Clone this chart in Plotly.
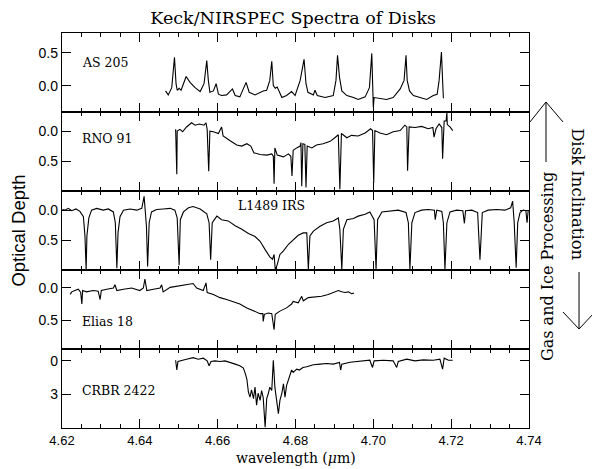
import plotly.graph_objects as go

# ---------------- data (wavelength in micron, optical depth) ----------------
as205_wl = [4.6466, 4.6473, 4.6482, 4.6489, 4.6493, 4.6496, 4.6501, 4.6506, 4.6519, 4.6529,
            4.6542, 4.6555, 4.6565, 4.6572, 4.6576, 4.6580, 4.6589, 4.6596, 4.6602, 4.6610,
            4.6623, 4.6638, 4.6645, 4.6657, 4.6673, 4.6681, 4.6696, 4.6709, 4.6717, 4.6726,
            4.6734, 4.6739, 4.6743, 4.6748, 4.6753, 4.6765, 4.6777, 4.6790, 4.6799, 4.6812,
            4.6819, 4.6822, 4.6827, 4.6832, 4.6846, 4.6850, 4.6856, 4.6876, 4.6897, 4.6904,
            4.6908, 4.6913, 4.6919, 4.6932, 4.6949, 4.6961, 4.6979, 4.6990, 4.6996, 4.6998,
            4.7000, 4.7002, 4.7017, 4.7034, 4.7051, 4.7069, 4.7079, 4.7084, 4.7087, 4.7093,
            4.7103, 4.7120, 4.7137, 4.7154, 4.7164, 4.7169, 4.7175, 4.7178, 4.7180]
as205_tau = [-0.08, -0.14, -0.03, 0.43, 0.03, -0.07, -0.04, -0.07, 0.14, 0.05,
             -0.03, -0.09, 0.03, 0.38, 0.08, -0.10, -0.08, 0.03, -0.13, -0.15,
             -0.14, -0.05, -0.15, -0.17, 0.05, -0.10, -0.14, -0.10, -0.08, -0.07,
             0.08, 0.37, 0.00, -0.04, -0.02, -0.18, -0.15, -0.09, -0.15, 0.08,
             0.28, 0.40, 0.03, -0.10, -0.14, -0.07, -0.15, -0.18, -0.15, 0.08,
             0.46, 0.13, -0.08, -0.15, -0.18, -0.21, -0.17, -0.03, 0.49, 0.03,
             -0.33, -0.18, -0.19, -0.21, -0.18, -0.05, 0.08, 0.46, 0.08, -0.08,
             -0.15, -0.18, -0.21, -0.15, -0.13, 0.08, 0.51, 0.08, -0.19]

rno91_wl = [4.6492, 4.6494, 4.6495, 4.6496, 4.6503, 4.6510, 4.6520, 4.6533, 4.6542, 4.6553,
            4.6565, 4.6570, 4.6573, 4.6577, 4.6580, 4.6589, 4.6602, 4.6610, 4.6614, 4.6632,
            4.6649, 4.6662, 4.6675, 4.6685, 4.6693, 4.6709, 4.6726, 4.6739, 4.6743, 4.6745,
            4.6747, 4.6753, 4.6769, 4.6782, 4.6788, 4.6791, 4.6794, 4.6803, 4.6812, 4.6814,
            4.6816, 4.6819, 4.6824, 4.6827, 4.6830, 4.6842, 4.6854, 4.6871, 4.6889, 4.6901,
            4.6910, 4.6914, 4.6918, 4.6932, 4.6944, 4.6961, 4.6979, 4.6993, 4.6998, 4.7001,
            4.7004, 4.7017, 4.7034, 4.7051, 4.7069, 4.7081, 4.7086, 4.7088, 4.7092, 4.7107,
            4.7124, 4.7141, 4.7153, 4.7156, 4.7161, 4.7169, 4.7176, 4.7178, 4.7182, 4.7187,
            4.7189, 4.7190, 4.7197, 4.7204]
rno91_tau = [-0.03, 0.33, 0.72, 0.00, -0.03, 0.01, -0.07, -0.14, -0.10, -0.12,
             -0.10, -0.14, -0.03, 0.67, 0.00, 0.01, 0.04, -0.07, 0.08, 0.16,
             0.23, 0.25, 0.21, 0.25, 0.36, 0.39, 0.40, 0.38, 0.42, 0.88,
             0.28, 0.40, 0.43, 0.38, 0.42, 0.75, 0.32, 0.28, 0.25, 0.19,
             0.92, 0.21, 0.22, 0.94, 0.25, 0.28, 0.23, 0.21, 0.17, 0.11,
             0.06, 0.97, 0.04, 0.11, 0.07, 0.08, 0.03, -0.04, -0.01, 0.86,
             -0.01, 0.03, 0.06, 0.01, -0.01, -0.10, -0.07, 0.66, -0.07, -0.06,
             -0.08, -0.04, -0.06, 0.10, -0.04, -0.12, -0.06, 0.46, -0.17, -0.17,
             -0.31, -0.11, -0.07, -0.01]

l1489_wl = [4.6201, 4.6208, 4.6216, 4.6225, 4.6236, 4.6246, 4.6255, 4.6259, 4.6262, 4.6264,
            4.6269, 4.6276, 4.6289, 4.6306, 4.6319, 4.6332, 4.6337, 4.6341, 4.6344, 4.6349,
            4.6358, 4.6375, 4.6392, 4.6405, 4.6411, 4.6415, 4.6417, 4.6420, 4.6424, 4.6430,
            4.6443, 4.6460, 4.6478, 4.6490, 4.6496, 4.6501, 4.6504, 4.6512, 4.6525, 4.6537,
            4.6555, 4.6572, 4.6578, 4.6582, 4.6586, 4.6598, 4.6610, 4.6627, 4.6645, 4.6662,
            4.6679, 4.6696, 4.6709, 4.6722, 4.6734, 4.6741, 4.6745, 4.6748, 4.6753, 4.6760,
            4.6769, 4.6782, 4.6794, 4.6807, 4.6820, 4.6829, 4.6833, 4.6837, 4.6846, 4.6863,
            4.6880, 4.6897, 4.6910, 4.6914, 4.6919, 4.6923, 4.6932, 4.6949, 4.6961, 4.6979,
            4.6991, 4.7002, 4.7007, 4.7011, 4.7022, 4.7043, 4.7064, 4.7084, 4.7090, 4.7094,
            4.7099, 4.7107, 4.7124, 4.7141, 4.7157, 4.7159, 4.7163, 4.7176, 4.7180, 4.7184,
            4.7189, 4.7197, 4.7214, 4.7230, 4.7234, 4.7237, 4.7253, 4.7268, 4.7274, 4.7280,
            4.7295, 4.7317, 4.7338, 4.7353, 4.7358, 4.7362, 4.7367, 4.7371, 4.7377, 4.7385,
            4.7392, 4.7395, 4.7398]
l1489_tau = [-0.01, 0.00, -0.03, 0.01, -0.02, 0.02, 0.11, 0.43, 1.00, 0.43,
             0.13, 0.00, -0.03, 0.00, -0.02, 0.03, 0.21, 0.97, 0.38, 0.11,
             0.00, -0.02, 0.00, -0.03, -0.23, 0.03, 0.27, 0.94, 0.21, 0.03,
             -0.01, -0.02, -0.03, 0.00, 0.13, 0.92, 0.16, 0.03, -0.04, -0.06,
             -0.02, 0.06, 0.21, 0.83, 0.21, 0.10, 0.16, 0.18, 0.26, 0.32,
             0.39, 0.44, 0.52, 0.66, 0.78, 0.82, 0.74, 1.00, 0.91, 0.74,
             0.68, 0.57, 0.49, 0.42, 0.38, 0.38, 0.99, 0.43, 0.35, 0.27,
             0.21, 0.18, 0.13, 0.32, 0.99, 0.32, 0.16, 0.14, 0.10, 0.07,
             0.03, 0.16, 0.99, 0.16, 0.03, 0.02, 0.00, 0.04, 0.21, 0.99,
             0.21, 0.04, 0.00, -0.01, 0.00, 0.16, 0.00, 0.02, 0.21, 0.99,
             0.21, 0.03, 0.00, 0.01, 0.22, 0.01, 0.00, 0.04, 0.83, 0.04,
             0.00, -0.01, 0.00, -0.04, -0.15, 0.21, 0.96, 0.21, 0.04, 0.00,
             0.01, 0.21, 0.00]

elias18_wl = [4.6221, 4.6225, 4.6233, 4.6242, 4.6248, 4.6251, 4.6253, 4.6263, 4.6280, 4.6293,
              4.6298, 4.6301, 4.6315, 4.6332, 4.6336, 4.6341, 4.6358, 4.6379, 4.6400, 4.6409,
              4.6413, 4.6418, 4.6435, 4.6452, 4.6456, 4.6460, 4.6478, 4.6499, 4.6520, 4.6537,
              4.6546, 4.6563, 4.6570, 4.6573, 4.6589, 4.6606, 4.6623, 4.6640, 4.6657, 4.6675,
              4.6692, 4.6709, 4.6716, 4.6717, 4.6720, 4.6730, 4.6739, 4.6745, 4.6748, 4.6760,
              4.6777, 4.6790, 4.6794, 4.6807, 4.6816, 4.6820, 4.6833, 4.6850, 4.6867, 4.6884,
              4.6897, 4.6910, 4.6919, 4.6927, 4.6936, 4.6944, 4.6950]
elias18_tau = [0.10, 0.06, 0.04, 0.02, 0.07, 0.25, 0.04, 0.06, 0.04, 0.05,
               0.18, 0.04, 0.02, 0.00, -0.05, 0.04, 0.02, 0.00, 0.04, 0.00,
               -0.14, 0.04, 0.02, 0.00, -0.05, 0.06, -0.01, -0.03, -0.05, -0.07,
               0.00, 0.04, -0.08, 0.07, 0.10, 0.15, 0.18, 0.21, 0.25, 0.31,
               0.36, 0.40, 0.40, 0.52, 0.41, 0.39, 0.40, 0.65, 0.41, 0.36,
               0.31, 0.25, 0.21, 0.23, 0.13, 0.20, 0.15, 0.14, 0.13, 0.10,
               0.07, 0.04, 0.06, 0.07, 0.06, 0.09, 0.08]

crbr_wl = [4.6492, 4.6495, 4.6498, 4.6508, 4.6520, 4.6537, 4.6550, 4.6563, 4.6573, 4.6578,
           4.6583, 4.6593, 4.6606, 4.6619, 4.6632, 4.6645, 4.6657, 4.6666, 4.6670, 4.6675,
           4.6679, 4.6683, 4.6687, 4.6692, 4.6696, 4.6700, 4.6704, 4.6709, 4.6713, 4.6717,
           4.6722, 4.6726, 4.6730, 4.6734, 4.6739, 4.6743, 4.6747, 4.6752, 4.6756, 4.6760,
           4.6765, 4.6769, 4.6773, 4.6777, 4.6783, 4.6790, 4.6794, 4.6803, 4.6810, 4.6819,
           4.6829, 4.6846, 4.6863, 4.6880, 4.6897, 4.6913, 4.6916, 4.6919, 4.6940, 4.6966,
           4.6991, 4.6998, 4.7002, 4.7026, 4.7051, 4.7060, 4.7064, 4.7086, 4.7107, 4.7128,
           4.7154, 4.7171, 4.7178, 4.7182, 4.7193, 4.7204]
crbr_tau = [-0.06, 0.82, 0.06, -0.06, -0.15, -0.29, -0.15, -0.24, 0.00, 0.44,
            0.06, 0.00, 0.06, 0.00, 0.18, 0.29, 0.44, 0.65, 1.03, 1.62,
            2.79, 3.24, 2.59, 3.38, 2.35, 3.97, 2.88, 3.53, 2.65, 3.29,
            5.94, 3.38, 2.94, 2.35, 2.65, -0.06, 2.35, 3.82, 4.71, 3.53,
            2.88, 2.06, 3.24, 2.21, 1.47, 0.82, 1.03, 0.74, 0.82, 0.59,
            0.53, 0.35, 0.29, 0.24, 0.29, 0.15, 0.82, 0.29, 0.12, 0.00,
            -0.06, 0.59, 0.00, -0.06, 0.00, 0.59, 0.06, -0.15, 0.00, -0.09,
            -0.06, -0.15, 0.74, -0.24, -0.06, -0.06]

names = ["AS 205", "RNO 91", "L1489 IRS", "Elias 18", "CRBR 2422"]
series = [(as205_wl, as205_tau), (rno91_wl, rno91_tau), (l1489_wl, l1489_tau),
          (elias18_wl, elias18_tau), (crbr_wl, crbr_tau)]
y_ranges = [[-0.4, 0.8], [1.0, -0.32], [1.0, -0.32], [0.95, -0.28], [6.0, -1.06]]
y_tickvals = [[0.0, 0.5], [0.0, 0.5], [0.0, 0.5], [0.0, 0.5], [0, 3]]
y_ticktext = [["0.0", "0.5"], ["0.0", "0.5"], ["0.0", "0.5"], ["0.0", "0.5"], ["0", "3"]]
label_pos = [(4.6245, 0.35), (4.6245, 0.13), (4.6646, -0.07), (4.6245, 0.52), (4.6245, 2.65)]
x_ticks = [4.62, 4.64, 4.66, 4.68, 4.70, 4.72, 4.74]

# ---------------- figure ----------------
# The page body has an 8px margin, so the figure is drawn at (8, 8) in the window.
W, H = 592, 461
fig = go.Figure()
n = len(names)
for i, (wl, tau) in enumerate(series):
    k = i + 1
    fig.add_trace(go.Scatter(x=wl, y=tau, mode="lines",
                             line=dict(color="black", width=1.1),
                             xaxis="x" if k == 1 else f"x{k}",
                             yaxis="y" if k == 1 else f"y{k}",
                             showlegend=False, hoverinfo="skip"))

tickfont = dict(family="Liberation Sans, Arial", size=14, color="black")
lay = {}
for i in range(n):
    k = i + 1
    sfx = "" if k == 1 else str(k)
    top = 1 - i / n
    bot = 1 - (i + 1) / n
    lay[f"xaxis{sfx}"] = dict(
        domain=[0, 1], anchor=f"y{sfx}", range=[4.62, 4.74],
        tickvals=x_ticks, ticktext=[f"{v:.2f}" for v in x_ticks],
        showticklabels=(k == n), ticks="inside", ticklen=9, tickwidth=1, tickcolor="black",
        minor=dict(dtick=0.005, tick0=4.62, ticks="inside", ticklen=4, tickcolor="black", tickwidth=1),
        showline=True, linecolor="black", linewidth=1.3, mirror="allticks",
        showgrid=False, zeroline=False, tickfont=dict(tickfont, size=13),
    )
    if k != 1:
        lay[f"xaxis{sfx}"]["matches"] = "x"
    lay[f"yaxis{sfx}"] = dict(
        domain=[bot, top], anchor=f"x{sfx}", range=y_ranges[i],
        tickvals=y_tickvals[i], ticktext=y_ticktext[i],
        ticks="inside", ticklen=9, tickwidth=1, tickcolor="black",
        showline=True, linecolor="black", linewidth=1.3, mirror="allticks",
        showgrid=False, zeroline=False, tickfont=tickfont,
    )

annotations = []
for i, (nm, (lx, ly)) in enumerate(zip(names, label_pos)):
    k = i + 1
    sfx = "" if k == 1 else str(k)
    annotations.append(dict(x=lx, y=ly, xref=f"x{sfx}", yref=f"y{sfx}", text=nm,
                            showarrow=False, xanchor="left", yanchor="middle",
                            font=dict(family="DejaVu Serif", size=12.5, color="black")))

annotations += [
    dict(x=-0.094, y=0.5, xref="paper", yref="paper", text="Optical Depth", textangle=-90,
         showarrow=False, xanchor="center", yanchor="middle",
         font=dict(family="Liberation Sans, Arial", size=18.5, color="black")),
    dict(x=0.5, y=-0.076, xref="paper", yref="paper", text="wavelength (<i>μ</i>m)",
         showarrow=False, xanchor="center", yanchor="middle",
         font=dict(family="DejaVu Serif", size=14, color="black")),
    dict(x=1.105, y=0.592, xref="paper", yref="paper", text="Disk Inclination", textangle=90,
         showarrow=False, xanchor="center", yanchor="middle",
         font=dict(family="DejaVu Serif", size=16.5, color="black")),
    dict(x=1.0407, y=0.4076, xref="paper", yref="paper", text="Gas and Ice Processing", textangle=-90,
         showarrow=False, xanchor="center", yanchor="middle",
         font=dict(family="DejaVu Serif", size=16, color="black")),
]

shapes = [
    # up arrow
    dict(type="line", xref="paper", yref="paper", x0=1.0364, y0=0.6734, x1=1.0364, y1=0.8253,
         line=dict(color="black", width=1)),
    dict(type="path", xref="paper", yref="paper",
         path="M 1.0021 0.7747 L 1.0364 0.8253 L 1.0728 0.7747", line=dict(color="black", width=1)),
    # down arrow
    dict(type="line", xref="paper", yref="paper", x0=1.1071, y0=0.3949, x1=1.1071, y1=0.2506,
         line=dict(color="black", width=1)),
    dict(type="path", xref="paper", yref="paper",
         path="M 1.0728 0.2937 L 1.1071 0.2506 L 1.1413 0.2937", line=dict(color="black", width=1)),
]

fig.update_layout(
    width=W, height=H,
    margin=dict(l=54, r=71, t=25, b=41),
    paper_bgcolor="white", plot_bgcolor="white",
    title=dict(text="Keck/NIRSPEC Spectra of Disks", x=0.495, xref="paper",
               y=1 - 10 / H, yref="container", xanchor="center", yanchor="middle",
               font=dict(family="DejaVu Serif", size=17.5, color="black")),
    annotations=annotations, shapes=shapes, showlegend=False,
    **lay,
)

fig.write_html("out.html")
